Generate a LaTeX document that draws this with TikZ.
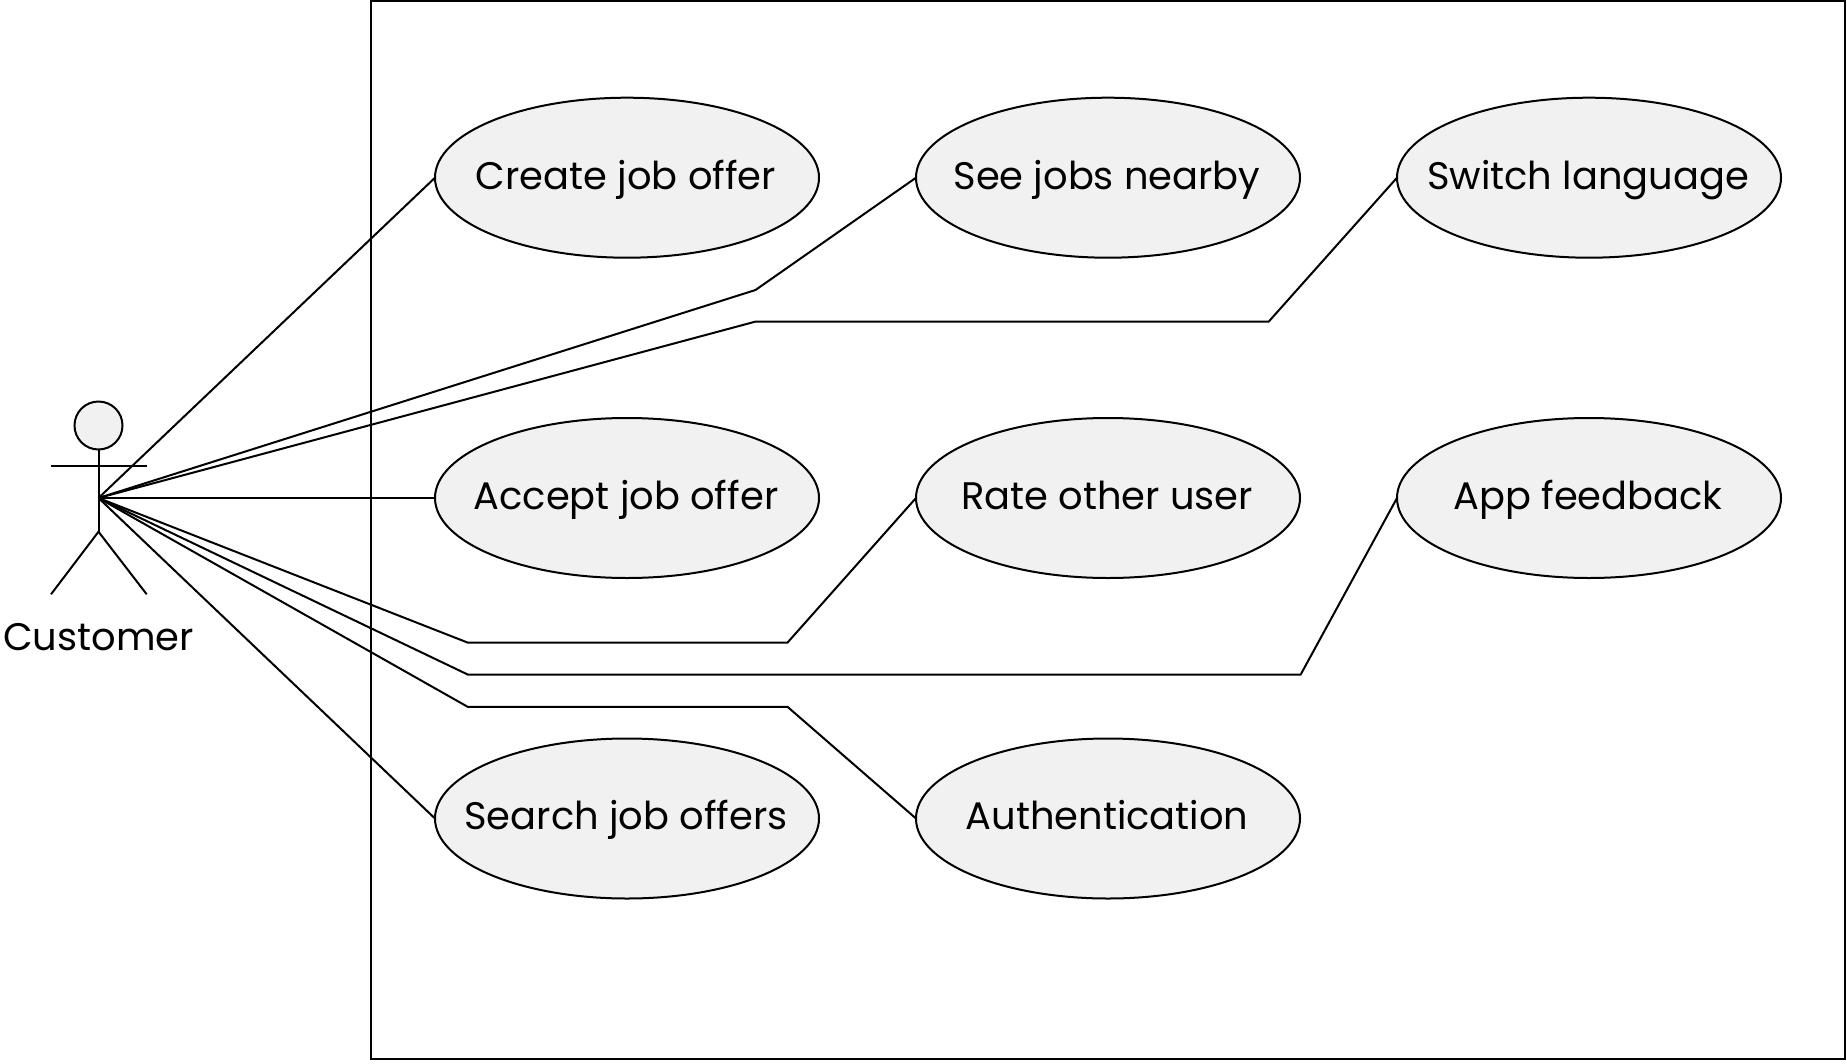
\documentclass[tikz,border=0pt]{standalone}
\usepackage{fontspec}
\setmainfont{Poppins}
\usetikzlibrary{shapes.geometric}
\definecolor{fillgray}{HTML}{F1F1F1}
\tikzset{
	usecase/.style={draw, ellipse, fill=fillgray, line width=2pt, minimum width=384pt, minimum height=160pt, inner sep=0pt, outer sep=0pt, font=\fontsize{38.4}{38.4}\selectfont},
	link/.style={line width=2pt},
}
\newcommand{\usecasenode}[4] % name, x, y, text
{
	% text box has no size, the ellipse keeps its own
	\node[usecase] (#1) at (#2,#3) {\raisebox{-11.4pt}[0pt][0pt]{\hspace{-2pt}\makebox[0pt]{#4}}};
}

\begin{document}
\begin{tikzpicture}[x=1pt,y=-1pt]
	% same size as the image, y runs downwards
	\useasboundingbox (0,0) rectangle (1847,1063);
	
	% system boundary
	\draw[link] (371,1) rectangle (1845,1058.5);
	
	% use cases
	\usecasenode{create}{627}{177.7}{Create job offer};
	\usecasenode{nearby}{1108}{177.7}{See jobs nearby};
	\usecasenode{language}{1589}{177.7}{Switch language};
	
	\usecasenode{accept}{627}{498}{Accept job offer};
	\usecasenode{rate}{1108}{498}{Rate other user};
	\usecasenode{feedback}{1589}{498}{App feedback};
	
	\usecasenode{search}{627}{818.5}{Search job offers};
	\usecasenode{auth}{1108}{818.5}{Authentication};
	
	% actor
	\node[circle, draw, fill=fillgray, line width=2pt, minimum size=48pt, inner sep=0pt, outer sep=0pt] (head) at (98.5,425.5) {};
	\coordinate (hub) at (98.5,498);
	\coordinate (hip) at (98.5,531.7);
	\coordinate (armleft) at (51,466.2);
	\coordinate (armright) at (146.7,466.2);
	\coordinate (footleft) at (51,594.3);
	\coordinate (footright) at (146.7,594.3);
	\draw[link] (head.south) -- (hip);
	\draw[link] (armleft) -- (armright);
	\draw[link] (footleft) -- (hip) -- (footright);
	\node[font=\fontsize{38.4}{38.4}\selectfont, inner sep=0pt, anchor=base] (customer) at (98.5,650.7) {Customer};
	
	% connectors
	\draw[link] (hub) -- (create.west);
	\draw[link] (hub) -- (755.5,290) -- (nearby.west);
	\draw[link] (hub) -- (755.5,321.6) -- (1268.7,321.6) -- (language.west);
	\draw[link] (hub) -- (accept.west);
	\draw[link] (hub) -- (467.7,642.6) -- (787.5,642.6) -- (rate.west);
	\draw[link] (hub) -- (467.7,674.5) -- (1300.7,674.5) -- (feedback.west);
	\draw[link] (hub) -- (467.7,706.8) -- (787.5,706.8) -- (auth.west);
	\draw[link] (hub) -- (search.west);
\end{tikzpicture}
\end{document}
